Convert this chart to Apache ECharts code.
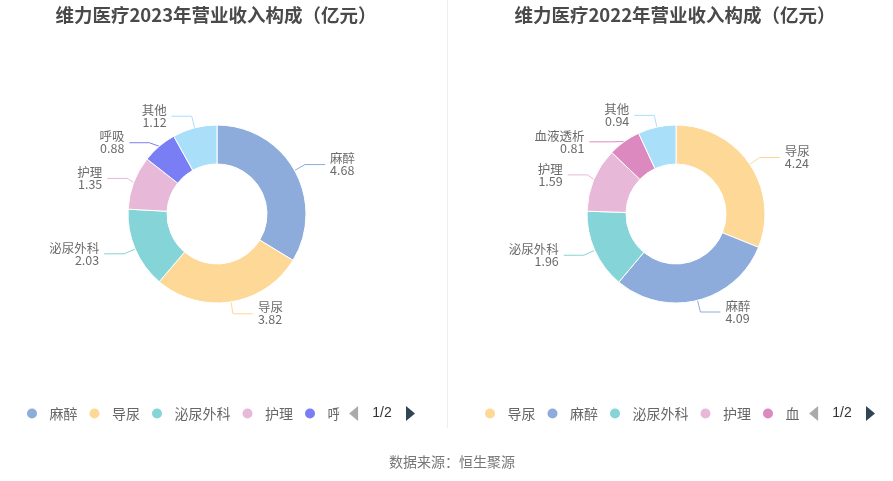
<!DOCTYPE html>
<html>
<head>
<meta charset="utf-8">
<script src="https://cdn.jsdelivr.net/npm/echarts@6/dist/echarts.min.js"></script>
<style>
	html, body { margin: 0; padding: 0; background: #fff; }
	#chart { width: 893px; height: 481px; }
</style>
</head>
<body>
<div id="chart"></div>
<script>
	// 2023
	const names2023 = ["麻醉", "导尿", "泌尿外科", "护理", "呼吸", "其他"]
	const values2023 = [4.68, 3.82, 2.03, 1.35, 0.88, 1.12]
	// 2022
	const names2022 = ["导尿", "麻醉", "泌尿外科", "护理", "血液透析", "其他"]
	const values2022 = [4.24, 4.09, 1.96, 1.59, 0.81, 0.94]

	const colorMap = {
		"麻醉": "#8dacdb",
		"导尿": "#fed897",
		"泌尿外科": "#85d4d7",
		"护理": "#e8b8d8",
		"呼吸": "#7a7ef5",
		"血液透析": "#dc89c0",
		"其他": "#a9dff9"
	}

	const font = "'Noto Sans CJK SC', sans-serif"

	function pieData(names, values) {
		return names.map((n, i) => ({
			name: n,
			value: values[i],
			itemStyle: { color: colorMap[n] }
		}))
	}

	function pieSeries(names, values, cx) {
		return {
			type: "pie",
			center: [cx, 214],
			radius: [50, 89],
			startAngle: 90,
			avoidLabelOverlap: true,
			itemStyle: { borderColor: "#fff", borderWidth: 1 },
			label: {
				formatter: "{b}\n{c}",
				color: "#6b6b6b",
				fontSize: 12.5,
				lineHeight: 12,
				fontFamily: font
			},
			labelLine: { length: 12, length2: 20, lineStyle: { width: 1 } },
			emphasis: { disabled: true },
			data: pieData(names, values)
		}
	}

	function legendOpt(names, left, width) {
		return {
			type: "scroll",
			orient: "horizontal",
			left: left,
			width: width,
			top: 401,
			icon: "circle",
			itemWidth: 25,
			itemHeight: 12,
			itemGap: 10,
			data: names,
			textStyle: { color: "#666", fontSize: 14, fontFamily: font },
			pageIconColor: "#2f4554",
			pageIconInactiveColor: "#aaa",
			pageIconSize: 15,
			pageButtonItemGap: 8,
			pageTextStyle: { color: "#333", fontSize: 14 }
		}
	}

	const chart = echarts.init(document.getElementById("chart"))
	chart.setOption({
		animation: false,
		title: [
			{
				text: "维力医疗2023年营业收入构成（亿元）",
				left: 211,
				top: 1,
				textAlign: "center",
				textStyle: { fontSize: 18.5, fontWeight: "bold", color: "#4a4a4a", fontFamily: font }
			},
			{
				text: "维力医疗2022年营业收入构成（亿元）",
				left: 670,
				top: 1,
				textAlign: "center",
				textStyle: { fontSize: 18.5, fontWeight: "bold", color: "#4a4a4a", fontFamily: font }
			},
			{
				text: "数据来源：恒生聚源",
				left: 447,
				top: 450,
				textAlign: "center",
				textStyle: { fontSize: 14, fontWeight: "normal", color: "#777", fontFamily: font }
			}
		],
		legend: [legendOpt(names2023, 20, 390), legendOpt(names2022, 478, 392)],
		graphic: [
			{
				type: "line",
				shape: { x1: 447.5, y1: 0, x2: 447.5, y2: 428 },
				style: { stroke: "#eeeeee", lineWidth: 1 }
			}
		],
		series: [
			pieSeries(names2023, values2023, 217),
			pieSeries(names2022, values2022, 676)
		]
	})
</script>
</body>
</html>
